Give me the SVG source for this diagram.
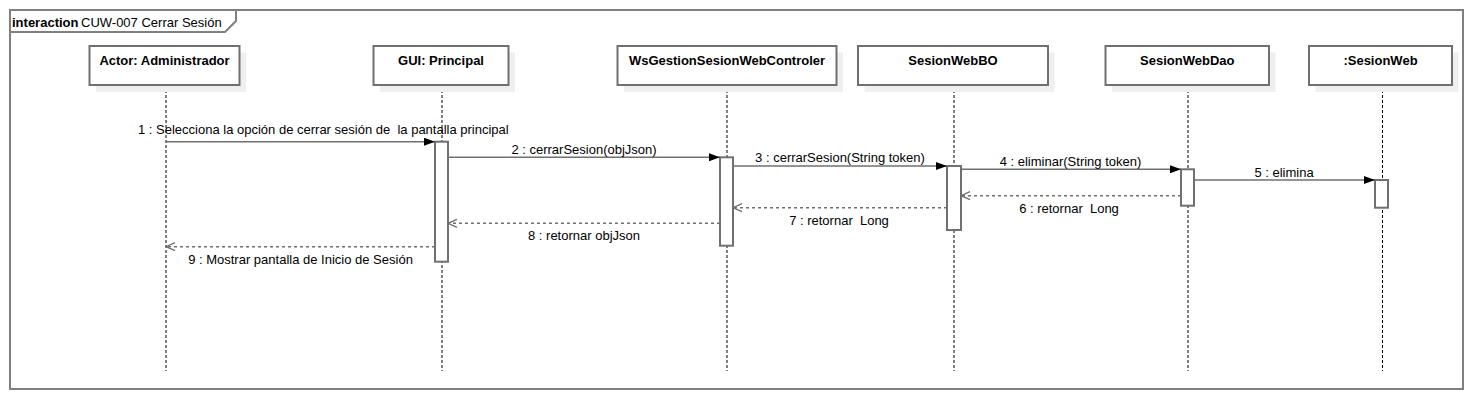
<svg xmlns="http://www.w3.org/2000/svg" width="1472" height="400" viewBox="0 0 1472 400">
<defs>
<style>
.frame{fill:none;stroke:#808080;stroke-width:2}
.box{fill:#fff;stroke:#707070;stroke-width:2}
.shadow{fill:#efefef;stroke:none}
.hdr{font-family:"Liberation Sans",Arial,sans-serif;font-size:13px;font-weight:bold;fill:#000;text-anchor:middle}
.lbl{font-family:"Liberation Sans",Arial,sans-serif;font-size:13px;fill:#000;text-anchor:middle}
.life{stroke:#000;stroke-width:1;stroke-dasharray:3,2;fill:none}
.act{fill:#fff;stroke:#707070;stroke-width:2}
.call{stroke:#707070;stroke-width:1.6;fill:none;marker-end:url(#filled)}
.ret{stroke:#707070;stroke-width:1.6;stroke-dasharray:3,3;fill:none;marker-end:url(#open)}
</style>
<marker id="filled" markerWidth="11" markerHeight="8" refX="11" refY="4" orient="auto" markerUnits="userSpaceOnUse">
<path d="M0,0 L11,4 L0,8 z" fill="#000"/>
</marker>
<marker id="open" markerWidth="11" markerHeight="10" refX="10" refY="5" orient="auto" markerUnits="userSpaceOnUse">
<path d="M1,1 L10,5 L1,9" fill="none" stroke="#707070" stroke-width="1.3"/>
</marker>
</defs>
<rect width="1472" height="400" fill="#fff"/>
<g id="frame">
<rect class="frame" x="10" y="10" width="1453" height="379"/>
<path class="frame" d="M10,32 L225,32 L236,21 L236,10"/>
<text x="12" y="26.5" style="font-family:'Liberation Sans',Arial,sans-serif;font-size:13px;fill:#000"><tspan font-weight="bold">interaction</tspan><tspan x="81">CUW-007 Cerrar Sesión</tspan></text>
</g>
<g id="lifelines">
<line class="life" x1="166" y1="85" x2="166" y2="371"/>
<line class="life" x1="442" y1="85" x2="442" y2="371"/>
<line class="life" x1="727" y1="85" x2="727" y2="371"/>
<line class="life" x1="954" y1="85" x2="954" y2="371"/>
<line class="life" x1="1188" y1="85" x2="1188" y2="371"/>
<line class="life" x1="1382.5" y1="85" x2="1382.5" y2="371"/>
</g>
<g id="n-actor">
<rect class="shadow" x="96" y="52.5" width="150" height="39.5"/>
<rect class="box" x="89.5" y="46" width="150" height="39"/>
<text class="hdr" x="164.5" y="64.5">Actor: Administrador</text>
</g>
<g id="n-gui">
<rect class="shadow" x="380" y="52.5" width="135" height="39.5"/>
<rect class="box" x="373.5" y="46" width="135" height="39"/>
<text class="hdr" x="441" y="64.5">GUI: Principal</text>
</g>
<g id="n-ws">
<rect class="shadow" x="624" y="52.5" width="219" height="39.5"/>
<rect class="box" x="617.5" y="46" width="219" height="39"/>
<text class="hdr" x="727" y="64.5">WsGestionSesionWebControler</text>
</g>
<g id="n-bo">
<rect class="shadow" x="864.5" y="52.5" width="190" height="39.5"/>
<rect class="box" x="858" y="46" width="190" height="39"/>
<text class="hdr" x="953" y="64.5">SesionWebBO</text>
</g>
<g id="n-dao">
<rect class="shadow" x="1112" y="52.5" width="163.5" height="39.5"/>
<rect class="box" x="1105.5" y="46" width="163.5" height="39"/>
<text class="hdr" x="1187.3" y="64.5">SesionWebDao</text>
</g>
<g id="n-sw">
<rect class="shadow" x="1315.5" y="52.5" width="143" height="39.5"/>
<rect class="box" x="1309" y="46" width="143" height="39"/>
<text class="hdr" x="1380.5" y="64.5">:SesionWeb</text>
</g>
<g id="activations">
<rect class="act" x="435" y="141.7" width="13" height="120"/>
<rect class="act" x="720" y="157.3" width="13" height="88.4"/>
<rect class="act" x="947" y="166" width="14" height="64"/>
<rect class="act" x="1181" y="169.3" width="13" height="36.4"/>
<rect class="act" x="1375" y="180" width="13" height="27.7"/>
</g>
<g id="connectors">
<line class="call" x1="166" y1="141.7" x2="435" y2="141.7"/>
<line class="call" x1="448" y1="157.3" x2="720" y2="157.3"/>
<line class="call" x1="733" y1="166" x2="947" y2="166"/>
<line class="call" x1="961" y1="169.3" x2="1181" y2="169.3"/>
<line class="call" x1="1194" y1="180" x2="1375" y2="180"/>
<line class="ret" x1="1181" y1="195.7" x2="961" y2="195.7"/>
<line class="ret" x1="947" y1="207.7" x2="733" y2="207.7"/>
<line class="ret" x1="720" y1="223.3" x2="448" y2="223.3"/>
<line class="ret" x1="435" y1="246.7" x2="166" y2="246.7"/>
<text class="lbl" x="138" y="134" style="text-anchor:start" xml:space="preserve">1 : Selecciona la opción de cerrar sesión de  la pantalla principal</text>
<text class="lbl" x="584" y="153.5">2 : cerrarSesion(objJson)</text>
<text class="lbl" x="840" y="162">3 : cerrarSesion(String token)</text>
<text class="lbl" x="1070.5" y="165.8">4 : eliminar(String token)</text>
<text class="lbl" x="1284" y="176.5">5 : elimina</text>
<text class="lbl" x="1069" y="212.5" xml:space="preserve">6 : retornar  Long</text>
<text class="lbl" x="839" y="224.7" xml:space="preserve">7 : retornar  Long</text>
<text class="lbl" x="584" y="240.3">8 : retornar objJson</text>
<text class="lbl" x="300.5" y="264">9 : Mostrar pantalla de Inicio de Sesión</text>
</g>
</svg>
